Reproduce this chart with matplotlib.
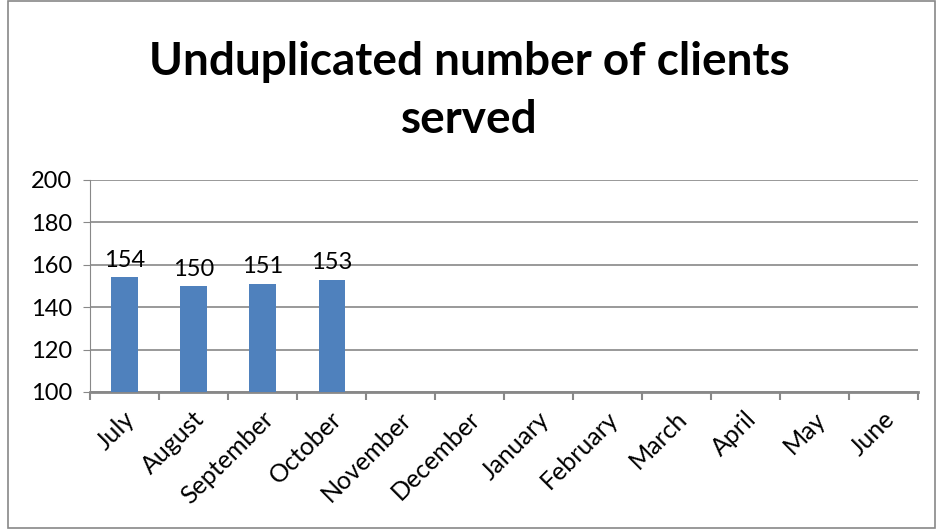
import numpy as np
import matplotlib.pyplot as plt
from matplotlib.patches import Rectangle
from matplotlib.transforms import ScaledTranslation

months = ["July", "August", "September", "October", "November", "December",
          "January", "February", "March", "April", "May", "June"]
clients = [154, 150, 151, 153]

plt.rcParams["font.family"] = ["Lato", "DejaVu Sans"]

fig = plt.figure(figsize=(9.38, 5.29), dpi=100)
ax = fig.add_axes([0.096, 0.259, 0.883, 0.401])

x = np.arange(len(clients))
bars = ax.bar(x, clients, width=0.38, color="#4f81bd", zorder=3)
for b, v in zip(bars, clients):
    ax.text(b.get_x() + b.get_width() / 2, v + 3, str(v), ha="center", va="bottom", fontsize=17)

ax.set_xlim(-0.5, len(months) - 0.5)
ax.set_ylim(100, 200)
ax.set_yticks(range(100, 201, 20))
ax.tick_params(axis="y", labelsize=17, length=5, color="#888888", pad=8)
ax.set_xticks(np.arange(len(months)))
ax.set_xticklabels(months, rotation=45, ha="right", rotation_mode="anchor", fontsize=18)
ax.tick_params(axis="x", length=0, pad=11)
offset = ScaledTranslation(-1 / 72, 0, fig.dpi_scale_trans)
for lbl in ax.get_xticklabels():
    lbl.set_transform(lbl.get_transform() + offset)
ax.set_xticks(np.arange(len(months) + 1) - 0.5, minor=True)
ax.tick_params(axis="x", which="minor", length=6, color="#888888", width=1.5)
ax.grid(axis="y", color="#888888", linewidth=1.2, zorder=0)
for side in ["top", "right"]:
    ax.spines[side].set_visible(False)
ax.spines["left"].set_color("#888888")
ax.spines["bottom"].set_color("#888888")
ax.spines["bottom"].set_linewidth(2)

fig.text(0.5, 0.828, "Unduplicated number of clients\nserved", ha="center", va="center",
         fontsize=33, fontweight="bold", linespacing=1.45)

fig.patches.append(Rectangle((0.009, 0.002), 0.988, 0.996, transform=fig.transFigure,
                             fill=False, edgecolor="#888888", linewidth=1.2))

plt.savefig("out.png")
